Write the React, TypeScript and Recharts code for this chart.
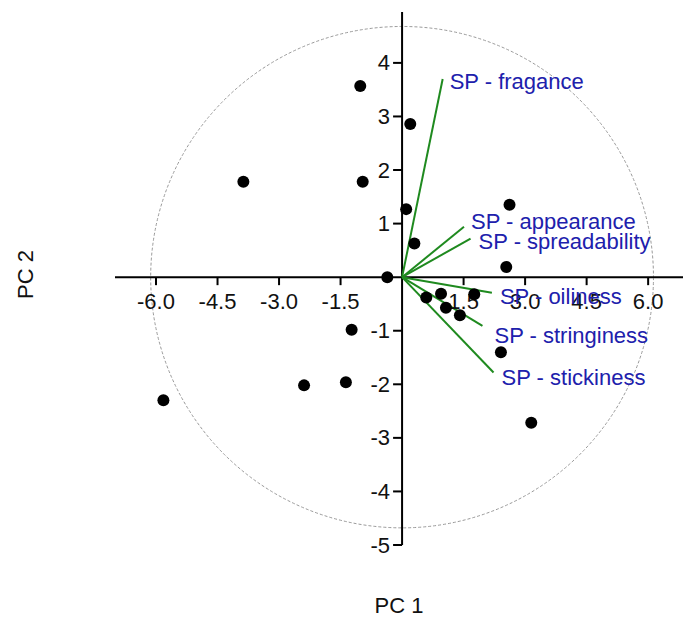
import React from 'react';
import {
  ScatterChart,
  Scatter,
  XAxis,
  YAxis,
  ReferenceLine,
  ReferenceDot,
  ReferenceArea,
} from 'recharts';

// scores (one dot per sample)
const scorePc1 = [-1.02, -3.87, -0.96, 0.2, 0.1, 0.3, -0.36, 2.62, 2.54, 0.59, 0.95, 1.07, 1.41, 1.76, 2.41, -1.23, -2.39, -1.37, -5.82, 3.15];
const scorePc2 = [3.57, 1.78, 1.78, 2.86, 1.27, 0.63, 0.0, 1.35, 0.19, -0.38, -0.31, -0.57, -0.71, -0.32, -1.4, -0.98, -2.02, -1.96, -2.3, -2.72];

// loadings (vectors from origin)
const loadNames = ['SP - fragance', 'SP - appearance', 'SP - spreadability', 'SP - oiliness', 'SP - stringiness', 'SP - stickiness'];
const loadPc1 = [0.99, 1.51, 1.67, 2.19, 1.96, 2.23];
const loadPc2 = [3.7, 0.94, 0.72, -0.29, -0.91, -1.78];

// correlation circle half-axes, in data units
const circleRx = 6.13;
const circleRy = 4.68;

const xTicks = [-6, -4.5, -3, -1.5, 1.5, 3, 4.5, 6];
const yTicks = [-5, -4, -3, -2, -1, 1, 2, 3, 4];

const scores = scorePc1.map((x, i) => ({ x, y: scorePc2[i] }));
const loadings = loadNames.map((name, i) => ({ name, x: loadPc1[i], y: loadPc2[i] }));

// label nudges (px) so the vector names don't collide, like the original
const labelNudge: Record<string, [number, number]> = {
  'SP - fragance': [7, 3],
  'SP - appearance': [7, -5],
  'SP - spreadability': [8, 3],
  'SP - oiliness': [8, 4],
  'SP - stringiness': [12, 10],
  'SP - stickiness': [8, 5],
};

const FONT = 'Arial, "Liberation Sans", sans-serif';
const BLUE = '#2020ac';
const GREEN = '#1f8a1f';

export default function App() {
  return (
    <div style={{ position: 'absolute', left: 0, top: 0, background: '#fff' }}>
      <ScatterChart width={683} height={624} margin={{ top: 12, right: 0, bottom: 0, left: 0 }}>
        <XAxis
          type="number"
          dataKey="x"
          domain={[-7, 6.85]}
          allowDataOverflow
          height={79}
          axisLine={false}
          tickLine={false}
          tick={false}
          label={{ value: 'PC 1', position: 'insideBottom', offset: 11, fill: '#111', fontSize: 22, fontFamily: FONT }}
        />
        <YAxis
          type="number"
          dataKey="y"
          domain={[-5, 4.95]}
          allowDataOverflow
          width={115}
          axisLine={false}
          tickLine={false}
          tick={false}
          label={{
            value: 'PC 2',
            angle: -90,
            position: 'insideLeft',
            offset: 25,
            dy: -4,
            fill: '#111',
            fontSize: 22,
            fontFamily: FONT,
            style: { textAnchor: 'middle' },
          }}
        />

        <ReferenceArea
          x1={-circleRx}
          x2={circleRx}
          y1={-circleRy}
          y2={circleRy}
          ifOverflow="visible"
          shape={(p: any) => (
            <ellipse
              cx={p.x + p.width / 2}
              cy={p.y + p.height / 2}
              rx={p.width / 2}
              ry={Math.abs(p.height) / 2}
              fill="none"
              stroke="#9a9a9a"
              strokeWidth={1}
              strokeDasharray="3 2"
            />
          )}
        />

        <ReferenceLine y={0} stroke="#000" strokeWidth={2} />
        <ReferenceLine x={0} stroke="#000" strokeWidth={2} />

        {xTicks.map((t) => (
          <ReferenceDot
            key={'xt' + t}
            x={t}
            y={0}
            r={0}
            ifOverflow="visible"
            shape={(p: any) => (
              <g>
                <line x1={p.cx} y1={p.cy} x2={p.cx} y2={p.cy + 8} stroke="#000" strokeWidth={2} />
                <text x={p.cx} y={p.cy + 24} textAnchor="middle" dominantBaseline="central" fontSize={22} fontFamily={FONT} fill="#111">
                  {t.toFixed(1)}
                </text>
              </g>
            )}
          />
        ))}
        {yTicks.map((t) => (
          <ReferenceDot
            key={'yt' + t}
            x={0}
            y={t}
            r={0}
            ifOverflow="visible"
            shape={(p: any) => (
              <g>
                <line x1={p.cx - 9} y1={p.cy} x2={p.cx} y2={p.cy} stroke="#000" strokeWidth={2} />
                <text x={p.cx - 12} y={p.cy} textAnchor="end" dominantBaseline="central" fontSize={22} fontFamily={FONT} fill="#111">
                  {t}
                </text>
              </g>
            )}
          />
        ))}

        {loadings.map((l) => (
          <ReferenceLine
            key={'ll' + l.name}
            segment={[{ x: 0, y: 0 }, { x: l.x, y: l.y }]}
            stroke={GREEN}
            strokeWidth={2}
            ifOverflow="visible"
          />
        ))}

        <Scatter
          data={scores}
          fill="#000"
          isAnimationActive={false}
          shape={(p: any) => <circle cx={p.cx} cy={p.cy} r={6} fill="#000" />}
        />

        {loadings.map((l) => (
          <ReferenceDot
            key={'lt' + l.name}
            x={l.x}
            y={l.y}
            r={0}
            ifOverflow="visible"
            shape={(p: any) => (
              <text
                x={p.cx + labelNudge[l.name][0]}
                y={p.cy + labelNudge[l.name][1]}
                dominantBaseline="central"
                fontSize={22}
                fontFamily={FONT}
                fill={BLUE}
              >
                {l.name}
              </text>
            )}
          />
        ))}
      </ScatterChart>
    </div>
  );
}
